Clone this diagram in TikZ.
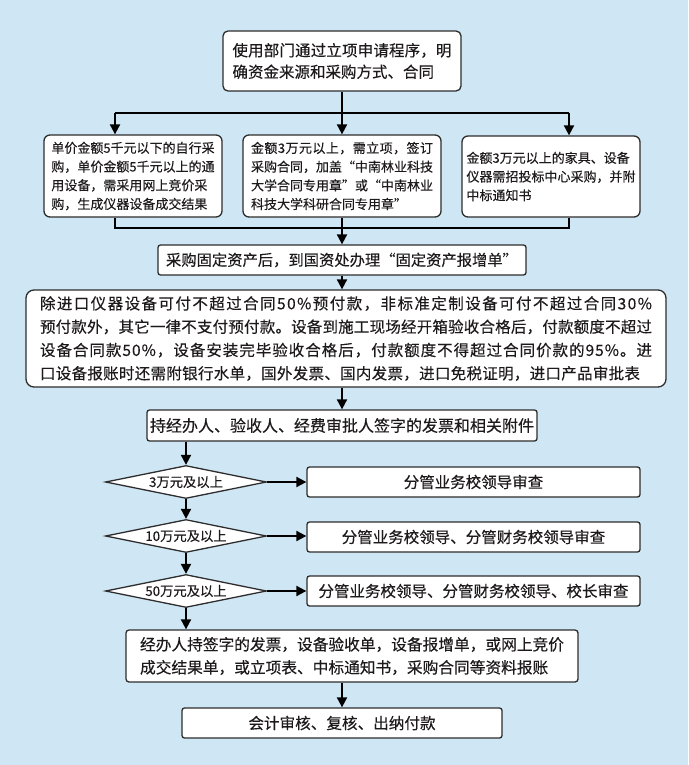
\documentclass[tikz,border=0pt]{standalone}
\usepackage{fontspec}
\setmainfont{Noto Sans CJK SC}[FakeBold=0.25]
\usetikzlibrary{arrows.meta,shapes.geometric,calc}
\definecolor{bgblue}{RGB}{207,230,244}
\definecolor{ink}{RGB}{30,26,27}
\definecolor{edgec}{RGB}{45,45,45}
\makeatletter
\def\spreadit#1{#1\spread@a}
\def\spread@a#1{\ifx#1\@nil\else\hskip 0pt plus 1fil\relax#1\expandafter\spread@a\fi}
\newcommand\jl[2]{\hbox to #1{\spreadit#2\@nil}}
\makeatother
\newcommand\lqq{\makebox[1em][r]{“}}
\newcommand\rqq{\makebox[1em][l]{”}}
\newcommand\fsz[2]{\fontsize{#1pt}{#2pt}\selectfont}
\begin{document}
\begin{tikzpicture}[x=1pt,y=-1pt,
  box/.style={draw=edgec, line width=1.3pt, fill=white, rounded corners=#1, inner sep=0pt, align=left, text=ink},
  box/.default=2.5pt,
  dia/.style={draw=edgec, line width=1.3pt, fill=white, diamond, aspect=4.9, inner sep=0pt,
    minimum width=161pt, minimum height=33pt, text=ink, font=\fsz{13.3}{15}},
  ln/.style={line width=2pt, draw=black},
  arr/.style={line width=2pt, draw=black, -{Triangle[length=10pt,width=10pt]}}
]
\fill[bgblue] (0,0) rectangle (688,765);
\useasboundingbox (0,0) rectangle (688,765);

% top
\node[box=5pt, minimum width=238pt, minimum height=60pt, font=\fsz{15.5}{21.5}] (top) at (342,61)
 {\jl{219pt}{使用部门通过立项申请程序，明}\\确资金来源和采购方式、合同};

% three boxes
\node[box=6pt, minimum width=178pt, minimum height=82pt, font=\fsz{13}{18.7}] (lbox) at (133,176)
 {单价金额5千元以下的自行采\\购，单价金额5千元以上的通\\用设备，需采用网上竞价采\\购，生成仪器设备成交结果};
\node[box=6pt, minimum width=198pt, minimum height=82pt, font=\fsz{13}{18.7}] (mbox) at (342,176)
 {\jl{182pt}{金额3万元以上，需立项，签订}\\\jl{182pt}{采购合同，加盖\lqq 中南林业科技}\\\jl{182pt}{大学合同专用章\rqq 或\lqq 中南林业}\\科技大学科研合同专用章\rqq};
\node[box=6pt, minimum width=178pt, minimum height=81pt, font=\fsz{13}{18.7}] (rbox) at (551,176.5)
 {金额3万元以上的家具、设备\\仪器需招投标中心采购，并附\\中标通知书};

\coordinate (j1l) at (115,113);
\coordinate (j1r) at (569,113);
\coordinate (j2l) at (115,228);
\coordinate (j2r) at (569,228);

\draw[ln] (j1l) -- (j1r);
\draw[arr] (top.south) -- (mbox.north);
\draw[arr] (j1l) -- (j1l |- lbox.north);
\draw[arr] (j1r) -- (j1r |- rbox.north);

% register box
\node[box, minimum width=368pt, minimum height=30pt, font=\fsz{15.3}{20}] (reg) at (342,260)
 {采购固定资产后，到国资处办理\lqq 固定资产报增单\rqq};

\draw[ln] (j2l |- lbox.south) -- (j2l) -- (j2r) -- (j2r |- rbox.south);
\draw[arr] (mbox.south) -- (reg.north);

% big box
\node[box=8pt, minimum width=640pt, minimum height=97pt, font=\fsz{15.5}{23.3}] (big) at (346,338.5)
 {\jl{612pt}{除进口仪器设备可付不超过合同50\%预付款，非标准定制设备可付不超过合同30\%}\\
  \jl{612pt}{预付款外，其它一律不支付预付款。设备到施工现场经开箱验收合格后，付款额度不超过}\\
  \jl{612pt}{设备合同款50\%，设备安装完毕验收合格后，付款额度不得超过合同价款的95\%。进}\\
  \jl{600pt}{口设备报账时还需附银行水单，国外发票、国内发票，进口免税证明，进口产品审批表}};
\draw[arr] (reg.south) -- (big.north -| reg.south);

% signatures
\node[box, minimum width=390pt, minimum height=31pt, font=\fsz{16}{20}] (sign) at (342,425.5)
 {持经办人、验收人、经费审批人签字的发票和相关附件};
\draw[arr] (big.south -| sign.north) -- (sign.north);

% diamonds and approvals
\node[dia] (d1) at (186,482) {3万元及以上};
\node[dia] (d2) at (186,536) {10万元及以上};
\node[dia] (d3) at (186,591) {50万元及以上};
\node[box, minimum width=333pt, minimum height=30pt, font=\fsz{15.5}{20}] (b1) at (473.5,482) {分管业务校领导审查};
\node[box, minimum width=333pt, minimum height=30pt, font=\fsz{15.5}{20}] (b2) at (473.5,537) {分管业务校领导、分管财务校领导审查};
\node[box, minimum width=333pt, minimum height=30pt, font=\fsz{15.5}{20}] (b3) at (473.5,591) {分管业务校领导、分管财务校领导、校长审查};

\draw[arr] (sign.south -| d1.north) -- (d1.north);
\draw[arr] (d1.east) -- (b1.west);
\draw[arr] (d1.south) -- (d2.north);
\draw[arr] (d2.east) -- (d2.east -| b2.west);
\draw[arr] (d2.south) -- (d3.north);
\draw[arr] (d3.east) -- (d3.east -| b3.west);

% final
\node[box=3pt, minimum width=452pt, minimum height=52pt, font=\fsz{15.7}{23}] (fin) at (352,656)
 {经办人持签字的发票，设备验收单，设备报增单，或网上竞价\\成交结果单，或立项表、中标通知书，采购合同等资料报账};
\draw[arr] (d3.south) -- (d3.south |- fin.north);

\node[box, minimum width=320pt, minimum height=30pt, font=\fsz{15.6}{20}] (pay) at (342,723)
 {会计审核、复核、出纳付款};
\draw[arr] (fin.south -| pay.north) -- (pay.north);
\end{tikzpicture}
\end{document}
